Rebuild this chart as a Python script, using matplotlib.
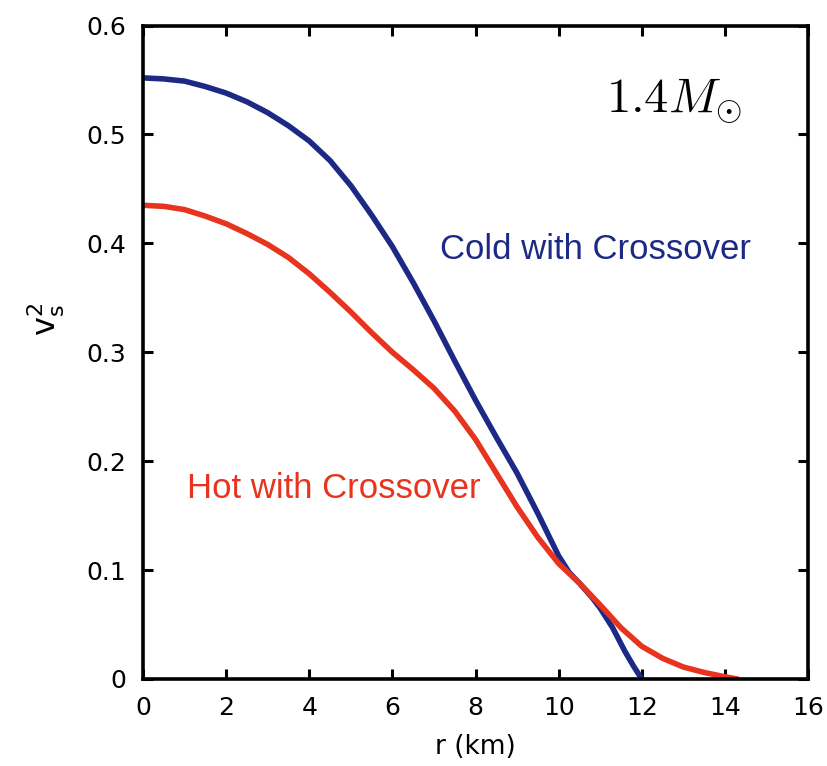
import matplotlib
matplotlib.use("Agg")
import matplotlib.pyplot as plt

plt.rcParams["mathtext.fontset"] = "dejavusans"

# Radial profiles of the squared sound speed for a 1.4 solar-mass star
r_cold = [0.0, 0.5, 1.0, 1.5, 2.0, 2.5, 3.0, 3.5, 4.0, 4.5, 5.0, 5.5, 6.0, 6.5,
          7.0, 7.5, 8.0, 8.5, 9.0, 9.5, 10.0, 10.25, 10.5, 10.8, 11.0, 11.3,
          11.6, 11.8, 12.0]
v2_cold = [0.552, 0.551, 0.549, 0.544, 0.538, 0.530, 0.520, 0.508, 0.494, 0.476,
           0.453, 0.426, 0.397, 0.364, 0.329, 0.292, 0.256, 0.222, 0.189, 0.152,
           0.113, 0.098, 0.088, 0.075, 0.065, 0.047, 0.025, 0.012, 0.0]

r_hot = [0.0, 0.5, 1.0, 1.5, 2.0, 2.5, 3.0, 3.5, 4.0, 4.5, 5.0, 5.5, 6.0, 6.5,
         7.0, 7.5, 8.0, 8.5, 9.0, 9.5, 10.0, 10.5, 11.0, 11.5, 12.0, 12.5,
         13.0, 13.5, 14.0, 14.3]
v2_hot = [0.435, 0.434, 0.431, 0.425, 0.418, 0.409, 0.399, 0.387, 0.372, 0.355,
          0.337, 0.318, 0.300, 0.284, 0.267, 0.246, 0.220, 0.189, 0.158, 0.130,
          0.106, 0.088, 0.068, 0.047, 0.030, 0.019, 0.011, 0.006, 0.002, 0.0]

x_ticks = [0, 2, 4, 6, 8, 10, 12, 14, 16]
y_ticks = [0, 0.1, 0.2, 0.3, 0.4, 0.5, 0.6]
y_tick_labels = ["0", "0.1", "0.2", "0.3", "0.4", "0.5", "0.6"]

blue = "#1c2a86"
red = "#e8341f"

fig = plt.figure(figsize=(8.27, 7.66), dpi=100)
ax = fig.add_axes([0.173, 0.1136, 0.804, 0.853])

ax.plot(r_cold, v2_cold, color=blue, lw=4.0, solid_capstyle="round",
        solid_joinstyle="round")
ax.plot(r_hot, v2_hot, color=red, lw=4.0, solid_capstyle="round",
        solid_joinstyle="round")

ax.set_xlim(0, 16)
ax.set_ylim(0, 0.6)
ax.set_xticks(x_ticks)
ax.set_xticklabels([str(t) for t in x_ticks])
ax.set_yticks(y_ticks)
ax.set_yticklabels(y_tick_labels)

for s in ax.spines.values():
    s.set_linewidth(2.6)
ax.tick_params(direction="in", length=7.5, width=2.2, top=True, right=True,
               labelsize=18)
ax.tick_params(axis="x", pad=12)
ax.tick_params(axis="y", pad=12)

ax.set_xlabel("r (km)", fontsize=19, labelpad=10)
ax.set_ylabel(r"$\mathrm{v}_{\mathrm{s}}^{2}$", fontsize=23)
ax.yaxis.set_label_coords(-0.115, 0.55)

ax.text(12.78, 0.531, r"$1.4M_{\odot}$", fontsize=35, color="black",
        ha="center", va="center", math_fontfamily="cm")
ax.text(7.15, 0.394, "Cold with Crossover", fontsize=25, color=blue,
        ha="left", va="center", family="Liberation Sans")
ax.text(1.05, 0.175, "Hot with Crossover", fontsize=25, color=red,
        ha="left", va="center", family="Liberation Sans")

fig.savefig("out.png", dpi=100)
